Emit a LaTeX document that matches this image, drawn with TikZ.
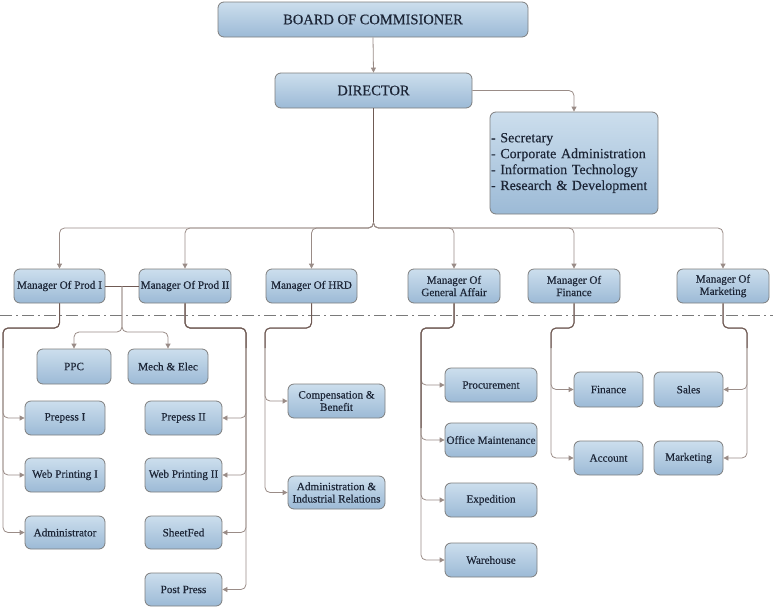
\documentclass[tikz,border=0pt]{standalone}
\usepackage{fontspec}
\setmainfont{Liberation Serif}
\newfontfamily\boxfont{Liberation Serif}[FakeBold=0.3]
\usetikzlibrary{arrows.meta,calc}
\definecolor{boxtop}{HTML}{CCDEED}
\definecolor{boxbot}{HTML}{9CBAD6}
\definecolor{boxborder}{HTML}{7E7E7E}
\definecolor{txt}{HTML}{1C2536}
\definecolor{linecol}{HTML}{9A8C87}
\definecolor{trunkcol}{HTML}{6F5A54}
\definecolor{dashcol}{HTML}{7A7A7A}
\tikzset{
  bx/.style={draw=boxborder, line width=0.8pt, rounded corners=6pt, top color=boxtop, bottom color=boxbot,
    text=txt, align=center, inner sep=1pt, font=\boxfont\fontsize{11.2}{12.3}\selectfont},
  big/.style={font=\boxfont\fontsize{14.5}{16}\selectfont},
  conn/.style={draw=linecol, line width=0.8pt, rounded corners=5pt, -{Triangle[length=5pt,width=5pt]}},
  trunk/.style={draw=trunkcol, line width=1pt, rounded corners=5pt},
  sepline/.style={draw=dashcol, line width=0.8pt, dash pattern=on 12pt off 4pt on 2pt off 4pt},
}
\begin{document}
\begin{tikzpicture}[x=1pt,y=-1pt]
\useasboundingbox (0,0) rectangle (773,608);
% top
\node[bx,big,minimum width=310pt,minimum height=35pt] (board) at (373,19.5) {BOARD OF COMMISIONER};
\node[bx,big,minimum width=197pt,minimum height=35pt] (dir) at (373.5,90.5) {DIRECTOR};
\node[bx,minimum width=168pt,minimum height=102pt,text width=166pt,align=left,inner sep=1pt,
  font=\boxfont\fontsize{14}{15.9}\selectfont] (sec) at (574,163)
  {- Secretary\\- Corporate Administration\\- Information Technology\\- Research \& Development};
% managers
\foreach \n/\x/\w/\t in {m1/59.5/91/{Manager Of Prod I}, m2/185/92/{Manager Of Prod II},
  m3/311.5/91/{Manager Of HRD}, m4/454/92/{Manager Of\\General Affair},
  m5/574/92/{Manager Of\\Finance}, m6/723/92/{Manager Of\\Marketing}}
  \node[bx,minimum width=\w pt,minimum height=34pt] (\n) at (\x,286) {\t};
% children
\foreach \n/\x/\y/\w/\h/\t in {
  ppc/74/366.5/74/35/PPC, mech/168/366.5/80/35/{Mech \& Elec},
  pre1/65/418/80/34/{Prepess I}, web1/65/475/80/34/{Web Printing I}, adm/65/532.5/80/33/Administrator,
  pre2/183.5/418/77/34/{Prepess II}, web2/183.5/475/77/34/{Web Printing II}, sheet/183.5/532.5/77/33/SheetFed,
  post/183.5/589.5/77/33/{Post Press},
  comp/336.5/401/97/34/{Compensation \&\\Benefit}, admr/336.5/492.5/97/33/{Administration \&\\Industrial Relations},
  proc/491/385/92/34/Procurement, off/491/440/92/34/{Office Maintenance},
  exp/491/500/92/34/Expedition, ware/491/560/92/34/Warehouse,
  fin/608.5/389.5/69/35/Finance, acc/608.5/458/69/34/Account,
  sales/688.5/389.5/69/35/Sales, mkt/688.5/458/69/34/Marketing}
  \node[bx,minimum width=\w pt,minimum height=\h pt] (\n) at (\x,\y) {\t};
% separator
\coordinate (sl) at (0,315);
\coordinate (sr) at (773,315);
\draw[sepline] (sl) -- (sr);
% top connectors
\draw[conn] (board.south) -- (dir.north);
\draw[conn] (dir.east) -| (sec.north);
\coordinate (hb) at (374,228);
\foreach \m in {m1,m2,m3,m4,m5,m6}
  \draw[conn] (dir.south) -- (dir.south |- hb) -| (\m.north);
\draw[trunk] (dir.south) -- ($(dir.south |- hb)+(0,-6)$);
% level for branches
\coordinate (lvl) at (0,328);
% Prod I / Prod II junction
\draw[draw=trunkcol,line width=0.8pt] (m1.east) -- (m2.west);
\coordinate (j) at ($(m1.east)!0.5!(m2.west)$);
\coordinate (jl) at (0,332);
\draw[conn] (j) -- (j |- jl) -| (ppc.north);
\draw[conn] (j) -- (j |- jl) -| (mech.north);
% Prod I
\coordinate (x1) at (3,0);
\foreach \c in {pre1,web1,adm}
  \draw[conn] (m1.south) -- (m1.south |- lvl) -- (x1 |- lvl) |- (\c.west);
\draw[trunk] (m1.south) -- (m1.south |- lvl) -- (x1 |- lvl) -- ($(x1 |- lvl)+(0,20)$);
% Prod II
\coordinate (x2) at (246,0);
\foreach \c in {pre2,web2,sheet,post}
  \draw[conn] (m2.south) -- (m2.south |- lvl) -- (x2 |- lvl) |- (\c.east);
\draw[trunk] (m2.south) -- (m2.south |- lvl) -- (x2 |- lvl) -- ($(x2 |- lvl)+(0,20)$);
% HRD
\coordinate (x3) at (265,0);
\foreach \c in {comp,admr}
  \draw[conn] (m3.south) -- (m3.south |- lvl) -- (x3 |- lvl) |- (\c.west);
\draw[trunk] (m3.south) -- (m3.south |- lvl) -- (x3 |- lvl) -- ($(x3 |- lvl)+(0,20)$);
% General Affair
\coordinate (x4) at (421,0);
\foreach \c in {proc,off,exp,ware}
  \draw[conn] (m4.south) -- (m4.south |- lvl) -- (x4 |- lvl) |- (\c.west);
\draw[trunk] (m4.south) -- (m4.south |- lvl) -- (x4 |- lvl) -- ($(x4 |- lvl)+(0,100)$);
% Finance
\coordinate (x5) at (551,0);
\foreach \c in {fin,acc}
  \draw[conn] (m5.south) -- (m5.south |- lvl) -- (x5 |- lvl) |- (\c.west);
\draw[trunk] (m5.south) -- (m5.south |- lvl) -- (x5 |- lvl) -- ($(x5 |- lvl)+(0,20)$);
% Marketing
\coordinate (x6) at (747,0);
\foreach \c in {sales,mkt}
  \draw[conn] (m6.south) -- (m6.south |- lvl) -- (x6 |- lvl) |- (\c.east);
\draw[trunk] (m6.south) -- (m6.south |- lvl) -- (x6 |- lvl) -- ($(x6 |- lvl)+(0,20)$);
\end{tikzpicture}
\end{document}
